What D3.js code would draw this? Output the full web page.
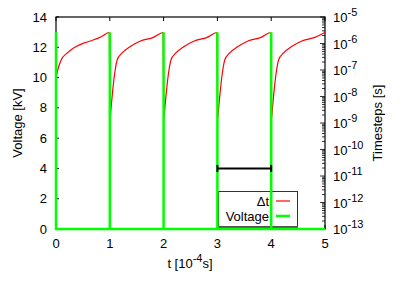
<!DOCTYPE html>
<html><head><meta charset="utf-8">
<script src="https://cdn.jsdelivr.net/npm/d3@7"></script>
<style>body{margin:0;background:#fff}svg{display:block}text{font-family:"Liberation Sans",Arial,sans-serif;fill:#000}</style>
</head><body><svg id="c" width="407" height="285"></svg>
<script>
// ---- data ----
const xTicks = [0, 1, 2, 3, 4, 5];
const yTicks = [0, 2, 4, 6, 8, 10, 12, 14];
const rTickExps = [-13, -12, -11, -10, -9, -8, -7, -6, -5];
// time step Δt (s) vs t (1e-4 s)
const dtT = [0, 0.04, 0.1, 0.2, 0.32, 0.51, 0.69, 0.85, 0.99,
  1.005, 1.025, 1.05, 1.1, 1.14, 1.22, 1.38, 1.56, 1.81, 1.99,
  2.005, 2.025, 2.05, 2.1, 2.14, 2.22, 2.38, 2.56, 2.81, 2.99,
  3.005, 3.025, 3.05, 3.1, 3.14, 3.22, 3.38, 3.56, 3.81, 3.99,
  4.005, 4.025, 4.05, 4.1, 4.14, 4.22, 4.38, 4.56, 4.81, 5.0];
const dtV = [5.2e-8, 1.14e-7, 2.5e-7, 4.25e-7, 6.65e-7, 1.03e-6, 1.35e-6, 1.85e-6, 2.6e-6,
  1.4e-9, 4.0e-9, 1.4e-8, 1.0e-7, 2.5e-7, 4.25e-7, 7.7e-7, 1.22e-6, 1.71e-6, 2.6e-6,
  1.4e-9, 4.0e-9, 1.4e-8, 1.0e-7, 2.5e-7, 4.25e-7, 7.7e-7, 1.22e-6, 1.71e-6, 2.6e-6,
  1.4e-9, 4.0e-9, 1.4e-8, 1.0e-7, 2.5e-7, 4.25e-7, 7.7e-7, 1.22e-6, 1.71e-6, 2.6e-6,
  1.4e-9, 4.0e-9, 1.4e-8, 1.0e-7, 2.5e-7, 4.25e-7, 7.7e-7, 1.22e-6, 1.71e-6, 2.6e-6];
// voltage (kV) vs t
const vT = [0, 0, 1, 1, 1, 2, 2, 2, 3, 3, 3, 4, 4, 4, 5];
const vV = [13, 0, 0, 13, 0, 0, 13, 0, 0, 13, 0, 0, 13, 0, 0];
// marker bar
const barT = [3, 4];
const barV = 4;

// ---- layout ----
const L = 56, R = 325, T = 17, B = 229;
const svg = d3.select("#c");
const x = d3.scaleLinear().domain([0, 5]).range([L, R]);
const y = d3.scaleLinear().domain([0, 14]).range([B, T]);
const yr = d3.scaleLog().domain([1e-13, 1e-5]).range([B, T]);
const fs = 13;

// legend (drawn below data)
const lg = svg.append("g");
lg.append("rect").attr("x", 218.5).attr("y", 191.5).attr("width", 79).attr("height", 35)
  .attr("fill", "#fff").attr("stroke", "#333").attr("stroke-width", 1);
lg.append("line").attr("x1", 218).attr("x2", 298).attr("y1", 227).attr("y2", 227)
  .attr("stroke", "#555").attr("stroke-width", 2);
lg.append("text").attr("x", 269).attr("y", 206).attr("text-anchor", "end").attr("font-size", fs).text("Δt");
lg.append("text").attr("x", 269).attr("y", 221).attr("text-anchor", "end").attr("font-size", fs).text("Voltage");
lg.append("line").attr("x1", 276).attr("x2", 290).attr("y1", 201).attr("y2", 201).attr("stroke", "#ff0000").attr("stroke-width", 1.2);
lg.append("line").attr("x1", 276).attr("x2", 290).attr("y1", 216).attr("y2", 216).attr("stroke", "#00ff00").attr("stroke-width", 2.5);

// frame
svg.append("rect").attr("x", L).attr("y", T).attr("width", R - L).attr("height", B - T)
  .attr("fill", "none").attr("stroke", "#000").attr("stroke-width", 1.2);

// left axis ticks + labels
yTicks.forEach(v => {
  svg.append("line").attr("x1", L).attr("x2", L + 3).attr("y1", y(v)).attr("y2", y(v)).attr("stroke", "#000");
  svg.append("text").attr("x", L - 9).attr("y", y(v) + 4.5).attr("text-anchor", "end").attr("font-size", fs).text(v);
});
// bottom / top ticks + labels
xTicks.forEach(v => {
  svg.append("line").attr("x1", x(v)).attr("x2", x(v)).attr("y1", T).attr("y2", T + 4).attr("stroke", "#000");
  svg.append("line").attr("x1", x(v)).attr("x2", x(v)).attr("y1", B).attr("y2", B - 4).attr("stroke", "#000");
  svg.append("text").attr("x", x(v)).attr("y", B + 19).attr("text-anchor", "middle").attr("font-size", fs).text(v);
});
// right log axis
yr.ticks().forEach(v => {
  const e = Math.log10(v);
  const major = Math.abs(e - Math.round(e)) < 1e-9;
  svg.append("line").attr("x1", R).attr("x2", R - (major ? 5 : 3)).attr("y1", yr(v)).attr("y2", yr(v))
    .attr("stroke", "#000").attr("stroke-width", 0.8);
});
rTickExps.forEach(e => {
  const t = svg.append("text").attr("x", R + 8).attr("y", yr(Math.pow(10, e)) + 5).attr("font-size", fs);
  t.append("tspan").text("10");
  t.append("tspan").attr("dy", -6).attr("font-size", 11).text(e);
});

// axis titles
svg.append("text").attr("transform", `translate(22,${(T + B) / 2}) rotate(-90)`).attr("text-anchor", "middle").attr("font-size", fs).text("Voltage [kV]");
svg.append("text").attr("transform", `translate(382,${(T + B) / 2}) rotate(-90)`).attr("text-anchor", "middle").attr("font-size", fs).text("Timesteps [s]");
const xt = svg.append("text").attr("x", 190).attr("y", 268).attr("text-anchor", "middle").attr("font-size", fs);
xt.append("tspan").text("t [10");
xt.append("tspan").attr("dy", -6).attr("font-size", 11).text("-4");
xt.append("tspan").attr("dy", 6).text("s]");

// data: Δt
const dtData = dtT.map((t, i) => [t, dtV[i]]);
svg.append("path").datum(dtData)
  .attr("d", d3.line().x(d => x(d[0])).y(d => yr(d[1])).curve(d3.curveMonotoneX))
  .attr("fill", "none").attr("stroke", "#ff0000").attr("stroke-width", 1.2);
// data: voltage
const vData = vT.map((t, i) => [t, vV[i]]);
svg.append("path").datum(vData)
  .attr("d", d3.line().x(d => x(d[0])).y(d => y(d[1])))
  .attr("fill", "none").attr("stroke", "#00ff00").attr("stroke-width", 2.5);
// bar
svg.append("line").attr("x1", x(barT[0])).attr("x2", x(barT[1])).attr("y1", y(barV)).attr("y2", y(barV))
  .attr("stroke", "#000").attr("stroke-width", 2);
barT.forEach(t => svg.append("line").attr("x1", x(t)).attr("x2", x(t)).attr("y1", y(barV) - 3.5).attr("y2", y(barV) + 3.5)
  .attr("stroke", "#000").attr("stroke-width", 2));
</script></body></html>
